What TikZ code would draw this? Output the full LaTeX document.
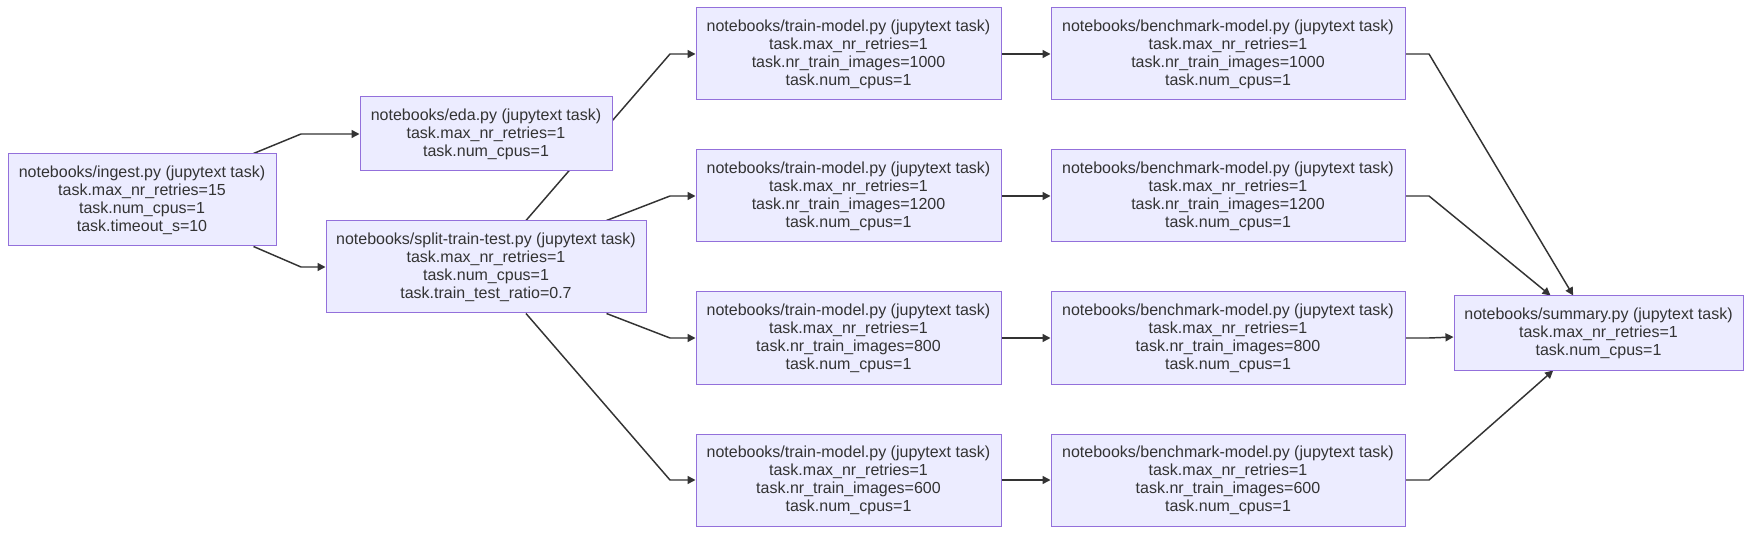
\documentclass[tikz,border=0pt]{standalone}
\usepackage{fontspec}
\setmainfont{Liberation Sans}
\usepackage{tikz}
\usetikzlibrary{arrows.meta, positioning, calc, backgrounds}
\definecolor{tkFill}{HTML}{ECECFF}
\definecolor{tkBorder}{HTML}{9370DB}
\definecolor{tkLine}{HTML}{333333}
\tikzset{
  tasknode/.style={rectangle, draw=tkBorder, line width=0.75pt, fill=tkFill,
                   text=tkLine, font=\fontsize{12}{13.5}\selectfont, align=center,
                   inner sep=0pt, minimum height=69pt},
  taskflow/.style={-{Triangle[length=6pt, width=6pt]}, line width=1.1pt, color=tkLine},
}
\begin{document}
\begin{tikzpicture}[x=0.75pt, y=-0.75pt]
  \useasboundingbox (0,0) rectangle (1751,534);
  % bend columns
  \coordinate (colA) at (301,0);
  \coordinate (colB) at (670,0);
  \coordinate (colC) at (1429,0);
  \node[tasknode, minimum width=201pt](ingest) at (142,200)
    {notebooks/ingest.py (jupytext task)\\task.max\_nr\_retries=15\\task.num\_cpus=1\\task.timeout\_s=10};
  \node[tasknode, minimum width=189pt, minimum height=55.5pt](eda) at (486,134)
    {notebooks/eda.py (jupytext task)\\task.max\_nr\_retries=1\\task.num\_cpus=1};
  \node[tasknode, minimum width=240pt](split) at (486,267)
    {notebooks/split-train-test.py (jupytext task)\\task.max\_nr\_retries=1\\task.num\_cpus=1\\task.train\_test\_ratio=0.7};
  \node[tasknode, minimum width=228.75pt](train1000) at (848.5,54)
    {notebooks/train-model.py (jupytext task)\\task.max\_nr\_retries=1\\task.nr\_train\_images=1000\\task.num\_cpus=1};
  \node[tasknode, minimum width=228.75pt](train1200) at (848.5,196)
    {notebooks/train-model.py (jupytext task)\\task.max\_nr\_retries=1\\task.nr\_train\_images=1200\\task.num\_cpus=1};
  \node[tasknode, minimum width=228.75pt](train800) at (848.5,338)
    {notebooks/train-model.py (jupytext task)\\task.max\_nr\_retries=1\\task.nr\_train\_images=800\\task.num\_cpus=1};
  \node[tasknode, minimum width=228.75pt](train600) at (848.5,480)
    {notebooks/train-model.py (jupytext task)\\task.max\_nr\_retries=1\\task.nr\_train\_images=600\\task.num\_cpus=1};
  \node[tasknode, minimum width=265.5pt](bench1000) at (1228,54)
    {notebooks/benchmark-model.py (jupytext task)\\task.max\_nr\_retries=1\\task.nr\_train\_images=1000\\task.num\_cpus=1};
  \node[tasknode, minimum width=265.5pt](bench1200) at (1228,196)
    {notebooks/benchmark-model.py (jupytext task)\\task.max\_nr\_retries=1\\task.nr\_train\_images=1200\\task.num\_cpus=1};
  \node[tasknode, minimum width=265.5pt](bench800) at (1228,338)
    {notebooks/benchmark-model.py (jupytext task)\\task.max\_nr\_retries=1\\task.nr\_train\_images=800\\task.num\_cpus=1};
  \node[tasknode, minimum width=265.5pt](bench600) at (1228,480)
    {notebooks/benchmark-model.py (jupytext task)\\task.max\_nr\_retries=1\\task.nr\_train\_images=600\\task.num\_cpus=1};
  \node[tasknode, minimum width=216.75pt, minimum height=55.5pt](summary) at (1598.5,333)
    {notebooks/summary.py (jupytext task)\\task.max\_nr\_retries=1\\task.num\_cpus=1};
  \begin{scope}[on background layer]
    \draw[taskflow]([xshift=-17.25pt]ingest.north east)--(colA |- eda.west)--(eda.west);
    \draw[taskflow]([xshift=-17.25pt]ingest.south east)--(colA |- split.west)--(split.west);
    \draw[taskflow]([xshift=30pt]split.north)--(colB |- train1000.west)--(train1000.west);
    \draw[taskflow]([xshift=-30pt]split.north east)--(colB |- train1200.west)--(train1200.west);
    \draw[taskflow]([xshift=-30pt]split.south east)--(colB |- train800.west)--(train800.west);
    \draw[taskflow]([xshift=30pt]split.south)--(colB |- train600.west)--(train600.west);
    \foreach \n in {1000,1200,800,600}
      \draw[taskflow](train\n.east)--(bench\n.west);
    \draw[taskflow](bench1000.east)--(colC |- bench1000.east)--([xshift=-19pt]summary.north);
    \draw[taskflow](bench1200.east)--(colC |- bench1200.east)--([xshift=-36pt]summary.north);
    \draw[taskflow](bench800.east)--(colC |- bench800.east)--([yshift=0.75pt]summary.west |- bench800.east);
    \draw[taskflow](bench600.east)--(colC |- bench600.east)--([xshift=-34pt]summary.south);
  \end{scope}
\end{tikzpicture}
\end{document}
